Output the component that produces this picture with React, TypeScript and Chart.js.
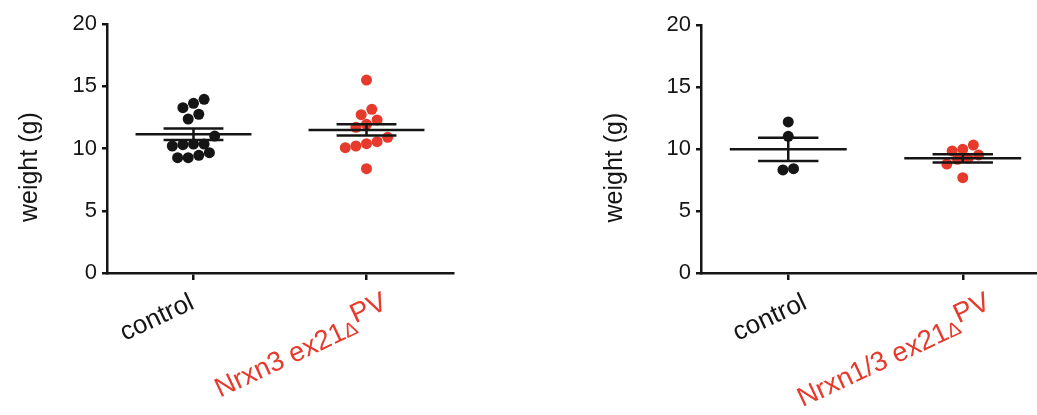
import React, { useEffect, useRef } from 'react';
import { Chart, registerables } from 'chart.js';

Chart.register(...registerables);

// ---------- data ----------
const yTicks = [0, 5, 10, 15, 20];
const yTitle = 'weight (g)';
const groupColors = ['#151515', '#e63a2c'];

const leftCategories = [['control'], ['Nrxn3 ex21', 'Δ', 'PV']];
const leftControl = [13.95, 13.63, 13.28, 12.75, 12.37, 11.0, 10.36, 10.31, 10.2, 10.36, 9.66, 9.45, 9.26, 9.26];
const leftMutant = [15.5, 13.15, 12.72, 12.29, 11.94, 11.7, 10.9, 10.55, 10.2, 10.07, 10.39, 8.38];
const leftMeans = [11.14, 11.49];
const leftSems = [0.46, 0.455];

const rightCategories = [['control'], ['Nrxn1/3 ex21', 'Δ', 'PV']];
const rightControl = [12.18, 11.02, 8.31, 8.41];
const rightMutant = [10.32, 9.84, 9.97, 9.52, 9.17, 8.79, 9.25, 7.69];
const rightMeans = [9.97, 9.25];
const rightSems = [0.945, 0.33];

// ---------- styles ----------
const FONT = "'Liberation Sans', Arial, Helvetica, sans-serif";
const AXIS = '#151515';
const CANVAS_H = 415;
const X_AXIS_H = 142;
const Y_AXIS_W = 107;
const DOT_R = 5.5;
const MEAN_HALF = 0.335; // category units
const SEM_HALF = 0.173;
const LABEL_ANGLE = (-25 * Math.PI) / 180;

type PanelCfg = {
  left: number;
  width: number;
  padLeft: number;
  padTop: number;
  chartRight: number;
  labelDx: number[];
  titleDx: number;
};

const leftPanel: PanelCfg = { left: 0, width: 520, padLeft: 0, padTop: 24, chartRight: 453, labelDx: [2, 22], titleDx: 77 };
const rightPanel: PanelCfg = { left: 520, width: 540, padLeft: 74, padTop: 25, chartRight: 530, labelDx: [20, 29], titleDx: 86 };

function swarmPlugin() {
  return {
    id: 'swarm',
    afterDatasetsUpdate(chart: any) {
      const D = DOT_R * 2 - 0.4;
      const xs = chart.scales.x;
      chart.data.datasets.forEach((ds: any, di: number) => {
        const meta = chart.getDatasetMeta(di);
        const els = meta.data as any[];
        if (!els.length) return;
        const baseX = xs.getPixelForValue(ds.data[0].x);
        const order = els.map((_e, i) => i).sort((a, b) => els[b].y - els[a].y);
        let row: number[] = [];
        let rowStart: number | null = null;
        const flush = () => {
          row.forEach((idx, k) => {
            els[idx].x = baseX + (k - (row.length - 1) / 2) * D;
          });
          row = [];
        };
        for (const i of order) {
          if (rowStart === null || rowStart - els[i].y > D) {
            flush();
            rowStart = els[i].y;
          }
          row.push(i);
        }
        flush();
      });
    },
  };
}

function summaryPlugin(means: number[], sems: number[]) {
  return {
    id: 'summary',
    afterDatasetsDraw(chart: any) {
      const { ctx, scales } = chart;
      const x = scales.x;
      const y = scales.y;
      ctx.save();
      ctx.strokeStyle = AXIS;
      ctx.lineWidth = 2.5;
      means.forEach((m, i) => {
        const cx = x.getPixelForValue(i);
        const hw = x.getPixelForValue(i + MEAN_HALF) - cx;
        const sw = x.getPixelForValue(i + SEM_HALF) - cx;
        const ym = y.getPixelForValue(m);
        const yu = y.getPixelForValue(m + sems[i]);
        const yl = y.getPixelForValue(m - sems[i]);
        ctx.beginPath();
        ctx.moveTo(cx - hw, ym);
        ctx.lineTo(cx + hw, ym);
        ctx.moveTo(cx - sw, yu);
        ctx.lineTo(cx + sw, yu);
        ctx.moveTo(cx - sw, yl);
        ctx.lineTo(cx + sw, yl);
        ctx.moveTo(cx, yu);
        ctx.lineTo(cx, yl);
        ctx.stroke();
      });
      ctx.restore();
    },
  };
}

function labelsPlugin(categories: string[][], labelDx: number[], titleDx: number) {
  return {
    id: 'customLabels',
    afterDraw(chart: any) {
      const { ctx, chartArea } = chart;
      const x = chart.scales.x;
      // y axis title
      ctx.save();
      ctx.font = `25px ${FONT}`;
      ctx.fillStyle = AXIS;
      ctx.translate(chartArea.left - titleDx, chartArea.top + (chartArea.bottom - chartArea.top) * 0.575);
      ctx.rotate(-Math.PI / 2);
      ctx.textAlign = 'center';
      ctx.textBaseline = 'middle';
      ctx.fillText(yTitle, 0, 0);
      ctx.restore();

      // x category labels
      categories.forEach((segs, i) => {
        const parts = segs.map((t, k) => {
          if (k === 0) return { t, size: segs.length > 1 ? 27.5 : 26, rise: 0 };
          if (k === 1) return { t, size: 20, rise: 0 };
          return { t, size: 27.5, rise: 10 };
        });
        ctx.save();
        ctx.fillStyle = groupColors[i];
        ctx.textAlign = 'left';
        ctx.textBaseline = 'alphabetic';
        const widths = parts.map((p) => {
          ctx.font = `${p.size}px ${FONT}`;
          return ctx.measureText(p.t).width;
        });
        const total = widths.reduce((a, b) => a + b, 0);
        const lastRise = parts[parts.length - 1].rise;
        ctx.translate(x.getPixelForValue(i) + labelDx[i], chartArea.bottom + 35);
        ctx.rotate(LABEL_ANGLE);
        let cur = -total;
        parts.forEach((p, k) => {
          ctx.font = `${p.size}px ${FONT}`;
          ctx.fillText(p.t, cur, -(p.rise - lastRise));
          cur += widths[k];
        });
        ctx.restore();
      });
    },
  };
}

function Panel(props: {
  cfg: PanelCfg;
  categories: string[][];
  groups: number[][];
  means: number[];
  sems: number[];
}) {
  const ref = useRef<HTMLCanvasElement | null>(null);
  const { cfg, categories, groups, means, sems } = props;

  useEffect(() => {
    if (!ref.current) return;
    const chart = new Chart(ref.current, {
      type: 'scatter',
      data: {
        datasets: groups.map((vals, gi) => ({
          label: categories[gi].join(''),
          data: vals.map((v) => ({ x: gi, y: v })),
          backgroundColor: groupColors[gi],
          borderWidth: 0,
          pointRadius: DOT_R,
          pointHoverRadius: DOT_R,
          clip: false as any,
        })),
      },
      options: {
        responsive: false,
        animation: false,
        events: [],
        layout: {
          padding: {
            left: cfg.padLeft,
            top: cfg.padTop,
            right: cfg.width - cfg.chartRight,
            bottom: 0,
          },
        },
        plugins: {
          legend: { display: false },
          tooltip: { enabled: false },
        },
        scales: {
          x: {
            type: 'linear',
            min: -0.5,
            max: 1.5,
            afterBuildTicks: (axis: any) => {
              axis.ticks = categories.map((_c, i) => ({ value: i }));
            },
            afterFit: (axis: any) => {
              axis.height = X_AXIS_H;
            },
            ticks: { display: false },
            grid: {
              drawOnChartArea: false,
              drawTicks: true,
              tickLength: 7,
              color: AXIS,
              lineWidth: 2.5,
            },
            border: { display: true, color: AXIS, width: 2.5 },
          },
          y: {
            type: 'linear',
            min: 0,
            max: 20,
            afterBuildTicks: (axis: any) => {
              axis.ticks = yTicks.map((v) => ({ value: v }));
            },
            afterFit: (axis: any) => {
              axis.width = Y_AXIS_W;
            },
            ticks: {
              font: { size: 22, family: FONT },
              color: AXIS,
              padding: 5,
            },
            grid: {
              drawOnChartArea: false,
              drawTicks: true,
              tickLength: 5,
              color: AXIS,
              lineWidth: 2.5,
            },
            border: { display: true, color: AXIS, width: 2.5 },
          },
        },
      } as any,
      plugins: [swarmPlugin(), summaryPlugin(means, sems), labelsPlugin(categories, cfg.labelDx, cfg.titleDx)],
    });
    return () => chart.destroy();
  }, []);

  return (
    <canvas
      ref={ref}
      width={cfg.width}
      height={CANVAS_H}
      style={{ position: 'absolute', left: cfg.left, top: 0, width: cfg.width, height: CANVAS_H, display: 'block' }}
    />
  );
}

export default function App() {
  return (
    <div
      style={{
        position: 'fixed',
        left: 0,
        top: 0,
        width: 1037,
        height: CANVAS_H,
        overflow: 'hidden',
        background: '#ffffff',
      }}
    >
      <Panel cfg={leftPanel} categories={leftCategories} groups={[leftControl, leftMutant]} means={leftMeans} sems={leftSems} />
      <Panel cfg={rightPanel} categories={rightCategories} groups={[rightControl, rightMutant]} means={rightMeans} sems={rightSems} />
    </div>
  );
}
